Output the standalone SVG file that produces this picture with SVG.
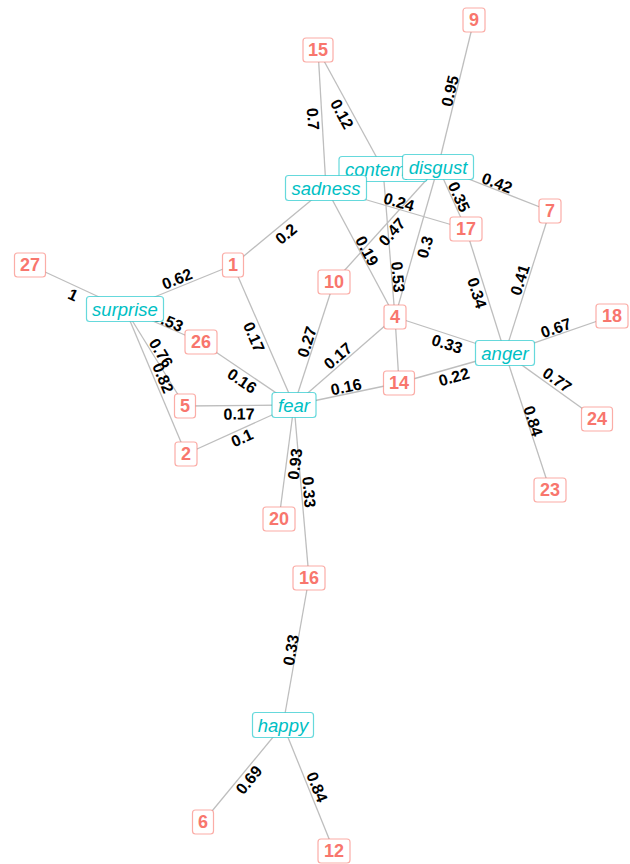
<svg xmlns="http://www.w3.org/2000/svg" width="630" height="864" viewBox="0 0 630 864">
<style>
.e{stroke:#BEBEBE;stroke-width:1.3;fill:none}
.el{font-family:"Liberation Sans",Arial,sans-serif;font-weight:bold;font-size:16px;fill:#000;text-anchor:middle;dominant-baseline:central}
.rb{fill:#fff;stroke:#F8766D;stroke-opacity:0.6;stroke-width:1.2}
.rt{font-family:"Liberation Sans",Arial,sans-serif;font-weight:bold;font-size:18px;fill:#F8766D;text-anchor:middle;dominant-baseline:central}
.cb{fill:#fff;stroke:#00BFC4;stroke-opacity:0.6;stroke-width:1.2}
.ct{font-family:"Liberation Sans",Arial,sans-serif;font-style:italic;font-size:18.5px;fill:#00BFC4;text-anchor:middle;dominant-baseline:central}
</style>
<rect width="630" height="864" fill="#fff"/>
<g id="edges">
<line class="e" x1="318" y1="50" x2="326" y2="188"/>
<line class="e" x1="318" y1="50" x2="383" y2="169"/>
<line class="e" x1="474" y1="20" x2="438" y2="167"/>
<line class="e" x1="438" y1="167" x2="550" y2="211"/>
<line class="e" x1="438" y1="167" x2="466" y2="229"/>
<line class="e" x1="326" y1="188" x2="466" y2="229"/>
<line class="e" x1="438" y1="167" x2="334" y2="282"/>
<line class="e" x1="438" y1="167" x2="395" y2="317"/>
<line class="e" x1="383" y1="169" x2="395" y2="317"/>
<line class="e" x1="326" y1="188" x2="395" y2="317"/>
<line class="e" x1="326" y1="188" x2="233" y2="265"/>
<line class="e" x1="125" y1="309" x2="233" y2="265"/>
<line class="e" x1="125" y1="309" x2="30" y2="265"/>
<line class="e" x1="125" y1="309" x2="201" y2="342"/>
<line class="e" x1="125" y1="309" x2="185" y2="406"/>
<line class="e" x1="125" y1="309" x2="186" y2="454"/>
<line class="e" x1="233" y1="265" x2="294" y2="405"/>
<line class="e" x1="201" y1="342" x2="294" y2="405"/>
<line class="e" x1="185" y1="406" x2="294" y2="405"/>
<line class="e" x1="186" y1="454" x2="294" y2="405"/>
<line class="e" x1="334" y1="282" x2="294" y2="405"/>
<line class="e" x1="395" y1="317" x2="294" y2="405"/>
<line class="e" x1="399" y1="383" x2="294" y2="405"/>
<line class="e" x1="395" y1="317" x2="399" y2="383"/>
<line class="e" x1="395" y1="317" x2="505" y2="353"/>
<line class="e" x1="399" y1="383" x2="505" y2="353"/>
<line class="e" x1="466" y1="229" x2="505" y2="353"/>
<line class="e" x1="550" y1="211" x2="505" y2="353"/>
<line class="e" x1="505" y1="353" x2="612" y2="316"/>
<line class="e" x1="505" y1="353" x2="597" y2="419"/>
<line class="e" x1="505" y1="353" x2="550" y2="490"/>
<line class="e" x1="294" y1="405" x2="279" y2="519"/>
<line class="e" x1="294" y1="405" x2="309" y2="578"/>
<line class="e" x1="309" y1="578" x2="283" y2="725"/>
<line class="e" x1="283" y1="725" x2="203" y2="822"/>
<line class="e" x1="283" y1="725" x2="334" y2="851"/>
<g id="edge-labels">
<text class="el" transform="translate(313,119) rotate(86.7)">0.7</text>
<text class="el" transform="translate(342,114) rotate(61.4)">0.12</text>
<text class="el" transform="translate(450,91) rotate(-76.2)">0.95</text>
<text class="el" transform="translate(497,183) rotate(21.4)">0.42</text>
<text class="el" transform="translate(459,197) rotate(65.7)">0.35</text>
<text class="el" transform="translate(399,202) rotate(16.3)">0.24</text>
<text class="el" transform="translate(392,232) rotate(-48)">0.47</text>
<text class="el" transform="translate(425,247) rotate(-74)">0.3</text>
<text class="el" transform="translate(398,277) rotate(85.4)">0.53</text>
<text class="el" transform="translate(367,251) rotate(61.9)">0.19</text>
<text class="el" transform="translate(286,234) rotate(-39.6)">0.2</text>
<text class="el" transform="translate(177,279) rotate(-22)">0.62</text>
<text class="el" transform="translate(73,295) rotate(25)">1</text>
<text class="el" transform="translate(168,321) rotate(23.5)">0.53</text>
<text class="el" transform="translate(161,353) rotate(58.3)">0.76</text>
<text class="el" transform="translate(163,378) rotate(67.2)">0.82</text>
<text class="el" transform="translate(254,337) rotate(66.5)">0.17</text>
<text class="el" transform="translate(242,381) rotate(34)">0.16</text>
<text class="el" transform="translate(239,414) rotate(-0.5)">0.17</text>
<text class="el" transform="translate(242,438) rotate(-24.4)">0.1</text>
<text class="el" transform="translate(307,342) rotate(-72)">0.27</text>
<text class="el" transform="translate(338,356) rotate(-41)">0.17</text>
<text class="el" transform="translate(346,387) rotate(-12)">0.16</text>
<text class="el" transform="translate(447,344) rotate(18)">0.33</text>
<text class="el" transform="translate(454,377) rotate(-15.8)">0.22</text>
<text class="el" transform="translate(477,293) rotate(72.5)">0.34</text>
<text class="el" transform="translate(520,280) rotate(-72.4)">0.41</text>
<text class="el" transform="translate(556,328) rotate(-19)">0.67</text>
<text class="el" transform="translate(557,380) rotate(35.6)">0.77</text>
<text class="el" transform="translate(533,421) rotate(71.8)">0.84</text>
<text class="el" transform="translate(295,464) rotate(-82.5)">0.93</text>
<text class="el" transform="translate(309,492) rotate(85)">0.33</text>
<text class="el" transform="translate(291,650) rotate(-80)">0.33</text>
<text class="el" transform="translate(249,780) rotate(-50.5)">0.69</text>
<text class="el" transform="translate(317,787) rotate(68)">0.84</text>
</g>
</g>
<g id="n9"><rect class="rb" x="463" y="8" width="22" height="24" rx="3"/><text class="rt" x="474" y="20">9</text></g>
<g id="n15"><rect class="rb" x="303" y="38" width="30" height="24" rx="3"/><text class="rt" x="318" y="50">15</text></g>
<g id="contempt"><rect class="cb" x="339" y="156.5" width="88" height="25" rx="3"/><text class="ct" x="383" y="169">contempt</text></g>
<g id="sadness"><rect class="cb" x="285.5" y="175.5" width="81" height="25" rx="3"/><text class="ct" x="326" y="188">sadness</text></g>
<g id="disgust"><rect class="cb" x="402.5" y="154.5" width="71" height="25" rx="3"/><text class="ct" x="438" y="167">disgust</text></g>
<g id="n17"><rect class="rb" x="450" y="217" width="32" height="24" rx="3"/><text class="rt" x="466" y="229">17</text></g>
<g id="n7"><rect class="rb" x="539" y="199" width="22" height="24" rx="3"/><text class="rt" x="550" y="211">7</text></g>
<g id="n18"><rect class="rb" x="596" y="304" width="32" height="24" rx="3"/><text class="rt" x="612" y="316">18</text></g>
<g id="n27"><rect class="rb" x="14.5" y="253" width="31" height="24" rx="3"/><text class="rt" x="30" y="265">27</text></g>
<g id="surprise"><rect class="cb" x="86.5" y="296.5" width="77" height="25" rx="3"/><text class="ct" x="125" y="309">surprise</text></g>
<g id="n1"><rect class="rb" x="222.5" y="253" width="21" height="24" rx="3"/><text class="rt" x="233" y="265">1</text></g>
<g id="n26"><rect class="rb" x="185" y="330" width="32" height="24" rx="3"/><text class="rt" x="201" y="342">26</text></g>
<g id="n5"><rect class="rb" x="174.5" y="394" width="21" height="24" rx="3"/><text class="rt" x="185" y="406">5</text></g>
<g id="n2"><rect class="rb" x="175" y="442" width="22" height="24" rx="3"/><text class="rt" x="186" y="454">2</text></g>
<g id="n10"><rect class="rb" x="318" y="270" width="32" height="24" rx="3"/><text class="rt" x="334" y="282">10</text></g>
<g id="n4"><rect class="rb" x="384" y="305" width="22" height="24" rx="3"/><text class="rt" x="395" y="317">4</text></g>
<g id="n14"><rect class="rb" x="383.5" y="371" width="31" height="24" rx="3"/><text class="rt" x="399" y="383">14</text></g>
<g id="fear"><rect class="cb" x="272" y="392.5" width="44" height="25" rx="3"/><text class="ct" x="294" y="405">fear</text></g>
<g id="anger"><rect class="cb" x="475.5" y="340.5" width="59" height="25" rx="3"/><text class="ct" x="505" y="353">anger</text></g>
<g id="n24"><rect class="rb" x="581.5" y="407" width="31" height="24" rx="3"/><text class="rt" x="597" y="419">24</text></g>
<g id="n23"><rect class="rb" x="534" y="478" width="32" height="24" rx="3"/><text class="rt" x="550" y="490">23</text></g>
<g id="n20"><rect class="rb" x="263" y="507" width="32" height="24" rx="3"/><text class="rt" x="279" y="519">20</text></g>
<g id="n16"><rect class="rb" x="293" y="566" width="32" height="24" rx="3"/><text class="rt" x="309" y="578">16</text></g>
<g id="happy"><rect class="cb" x="252.5" y="712.5" width="61" height="25" rx="3"/><text class="ct" x="283" y="725">happy</text></g>
<g id="n6"><rect class="rb" x="192.5" y="810" width="21" height="24" rx="3"/><text class="rt" x="203" y="822">6</text></g>
<g id="n12"><rect class="rb" x="318" y="839" width="32" height="24" rx="3"/><text class="rt" x="334" y="851">12</text></g>
</svg>
